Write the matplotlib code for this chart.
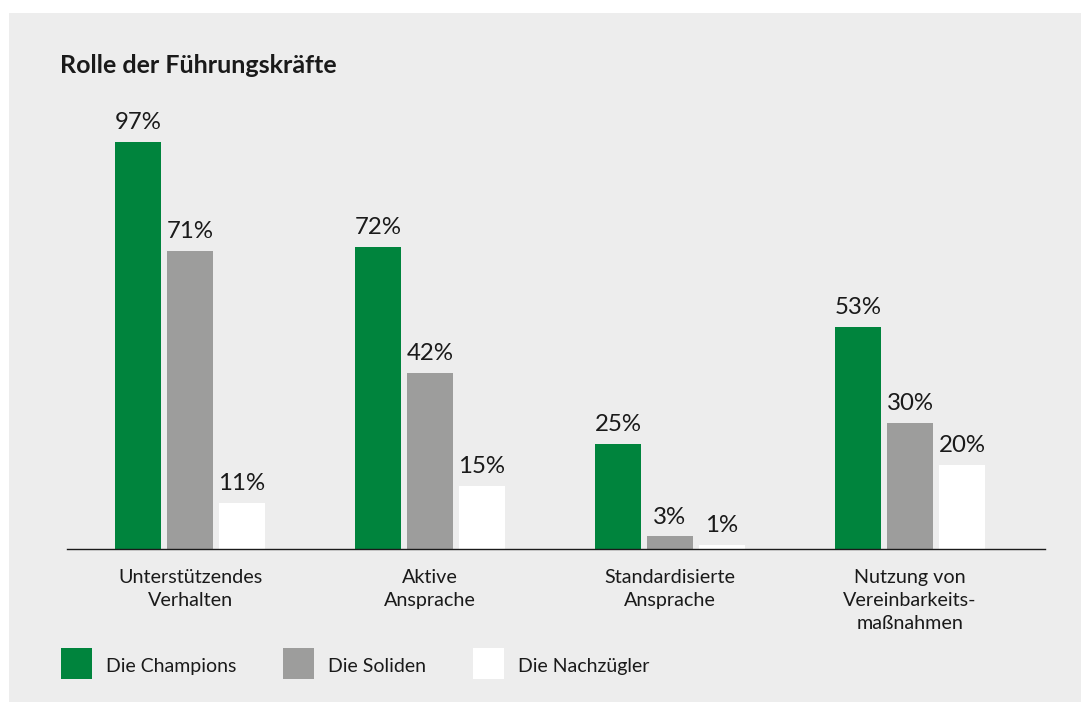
import numpy as np
import matplotlib
matplotlib.use("Agg")
import matplotlib.pyplot as plt
from matplotlib.patches import Rectangle

# data
categories = ["Unterstützendes\nVerhalten", "Aktive\nAnsprache",
              "Standardisierte\nAnsprache", "Nutzung von\nVereinbarkeits-\nmaßnahmen"]
series_names = ["Die Champions", "Die Soliden", "Die Nachzügler"]
champions = [97, 72, 25, 53]
soliden = [71, 42, 3, 30]
nachzuegler = [11, 15, 1, 20]
series_values = [champions, soliden, nachzuegler]
colors = ["#00843d", "#9d9d9c", "#ffffff"]

W, H = 1081, 702
plt.rcParams['font.family'] = ['Lato', 'DejaVu Sans']
fig = plt.figure(figsize=(W / 100, H / 100), dpi=100)
fig.patch.set_facecolor("white")


def fx(px):
    return px / W


def fy(py):
    return 1 - py / H


# grey panel
fig.patches.append(Rectangle((fx(9), 0), 1 - fx(9), fy(13), transform=fig.transFigure,
                             facecolor="#ededed", edgecolor="none", zorder=-5))

# axes placed in pixel space: baseline at y=549, 100% at y=129.4
ax_left, ax_right = 67, 1045
base_y, top_y = 549, 549 - 100 * 4.196
ax = fig.add_axes([fx(ax_left), fy(base_y), fx(ax_right - ax_left), (base_y - top_y) / H])
ax.set_facecolor("none")
ax.set_zorder(2)
ax.set_ylim(0, 100)
ax.set_xlim((ax_left - 190) / 240, (ax_right - 190) / 240)

x = np.arange(len(categories))
bar_w = 46 / 240
step = 52 / 240
for i, (vals, col) in enumerate(zip(series_values, colors)):
    pos = x + (i - 1) * step
    ax.bar(pos, vals, width=bar_w, color=col, edgecolor="none", zorder=2)
    for p, v in zip(pos, vals):
        ax.annotate(f"{v}%", (p, v), xytext=(0, 9.1), textcoords="offset points",
                    ha="center", va="baseline", fontsize=17.3, color="#1a1a1a",
                    annotation_clip=False)

# category labels, one line at a time
for xi, cat in zip(x, categories):
    for j, line in enumerate(cat.split("\n")):
        ax.annotate(line, (xi, 0), xytext=(0, -(34.3 + 22.7 * j) / 1.389),
                    textcoords="offset points", ha="center", va="baseline",
                    fontsize=14.2, color="#1a1a1a", annotation_clip=False)

for s in ["top", "right", "left"]:
    ax.spines[s].set_visible(False)
ax.spines["bottom"].set_linewidth(1.0)
ax.spines["bottom"].set_color("#1a1a1a")
ax.spines["bottom"].set_zorder(3)
ax.set_xticks([])
ax.set_yticks([])

# title
fig.text(fx(60), fy(73.3), "Rolle der Führungskräfte", fontsize=18, fontweight="bold",
         ha="left", va="baseline", color="#1a1a1a")

# legend
sq_x = [61, 283, 473]
txt_x = [105.7, 327.7, 517.7]
for name, col, sx, tx in zip(series_names, colors, sq_x, txt_x):
    fig.patches.append(Rectangle((fx(sx), fy(679)), 31 / W, 31 / H, transform=fig.transFigure,
                                 facecolor=col, edgecolor="none", zorder=1))
    fig.text(fx(tx), fy(671.7), name, fontsize=14, ha="left", va="baseline", color="#1a1a1a")

fig.savefig("out.png", dpi=100, facecolor=fig.get_facecolor())
